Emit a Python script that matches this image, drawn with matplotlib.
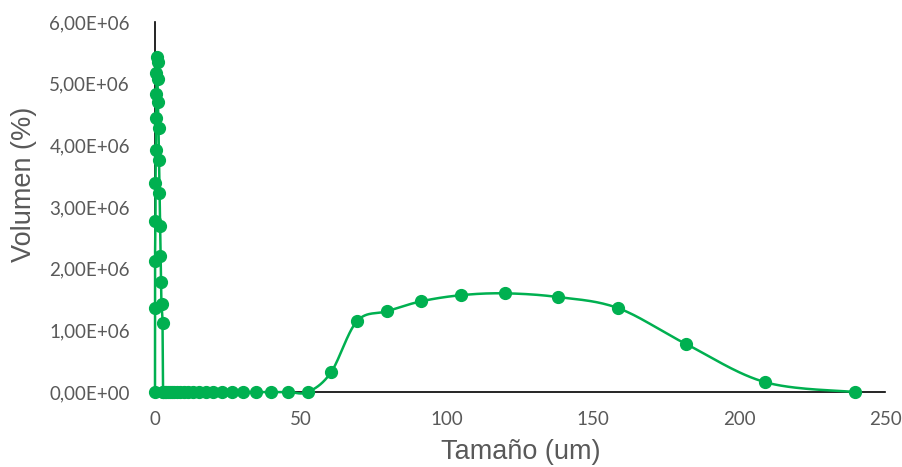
import numpy as np
import matplotlib
matplotlib.use("Agg")
import matplotlib.pyplot as plt
from matplotlib.ticker import FuncFormatter

# Particle size distribution
size_um = [0.0, 0.0, 0.0, 0.17, 0.17, 0.34, 0.34, 0.51, 0.51, 0.68,
           0.86, 0.86, 1.03, 1.2, 1.37, 1.54, 1.71, 1.88, 2.05, 2.23, 2.57, 2.74,
           2.9, 3.3, 3.8, 4.3, 5.0, 5.7, 6.5, 7.5, 8.6, 9.9, 11.4, 13.1,
           15.0, 17.3, 19.8, 22.8, 26.2, 30.1, 34.6, 39.7, 45.6, 52.4,
           60.3, 69.2, 79.5, 91.1, 104.8, 119.9, 138.0, 158.6, 181.8, 208.9, 239.7]
volume = [0.0, 1.36e6, 2.12e6, 2.77e6, 3.39e6, 3.93e6, 4.44e6, 4.83e6, 5.17e6, 5.43e6,
          5.35e6, 5.07e6, 4.70e6, 4.28e6, 3.77e6, 3.23e6, 2.70e6, 2.20e6, 1.79e6, 1.43e6, 1.12e6, 0.0,
          0.0, 0.0, 0.0, 0.0, 0.0, 0.0, 0.0, 0.0, 0.0, 0.0, 0.0, 0.0,
          0.0, 0.0, 0.0, 0.0, 0.0, 0.0, 0.0, 0.0, 0.0, 0.0,
          0.32e6, 1.15e6, 1.31e6, 1.47e6, 1.57e6, 1.60e6, 1.54e6, 1.36e6, 0.78e6, 0.16e6, 0.0]

x_ticks = [0, 50, 100, 150, 200, 250]
y_ticks = [0, 1e6, 2e6, 3e6, 4e6, 5e6, 6e6]

green = '#00B050'
grey = '#595959'

fig = plt.figure(figsize=(9.03, 4.67), dpi=100)
ax = fig.add_axes([155/903, 75/467, 730/903, 370/467])
ax.set_xlim(0, 250)
ax.set_ylim(0, 6e6)


def smooth(ax, xs, ys, n=30):
    # Excel-like smoothed line: cardinal bezier computed in screen space
    pts = ax.transData.transform(np.column_stack([xs, ys]))
    p = np.vstack([pts[0], pts, pts[-1]])
    out = []
    t = np.linspace(0, 1, n)[:, None]
    for i in range(1, len(p) - 2):
        p0, p1, p2, p3 = p[i - 1], p[i], p[i + 1], p[i + 2]
        c1 = p1 + (p2 - p0) / 6
        c2 = p2 - (p3 - p1) / 6
        seg = ((1 - t) ** 3) * p1 + 3 * ((1 - t) ** 2) * t * c1 + 3 * (1 - t) * t ** 2 * c2 + t ** 3 * p2
        out.append(seg)
    out = np.vstack(out)
    return ax.transData.inverted().transform(out)


curve = smooth(ax, size_um, volume)
ax.plot(curve[:, 0], curve[:, 1], color=green, lw=1.8, clip_on=False, zorder=3)
ax.plot(size_um, volume, 'o', color=green, ms=8.5, clip_on=False, zorder=4)

for s in ('top', 'right'):
    ax.spines[s].set_visible(False)
for s in ('left', 'bottom'):
    ax.spines[s].set_color('black')
    ax.spines[s].set_linewidth(1.2)
ax.spines['bottom'].set_zorder(2)

ax.set_xticks(x_ticks)
ax.set_yticks(y_ticks)
ax.yaxis.set_major_formatter(FuncFormatter(lambda v, p: ('%.2E' % v).replace('.', ',')))
ax.tick_params(length=0, labelsize=13.5, labelcolor=grey)
ax.tick_params(axis='y', pad=18)
ax.tick_params(axis='x', pad=14)
for lab in ax.get_xticklabels() + ax.get_yticklabels():
    lab.set_family('Lato')

fig.text(521/903, 1 - 452/467, 'Tamaño (um)', fontsize=19.5, color=grey,
         family='Liberation Sans', ha='center', va='center')
fig.text(24/903, 1 - 184/467, 'Volumen (%)', fontsize=19.5, color=grey,
         family='Liberation Sans', ha='center', va='center', rotation=90)

fig.savefig('out.png', dpi=100)
